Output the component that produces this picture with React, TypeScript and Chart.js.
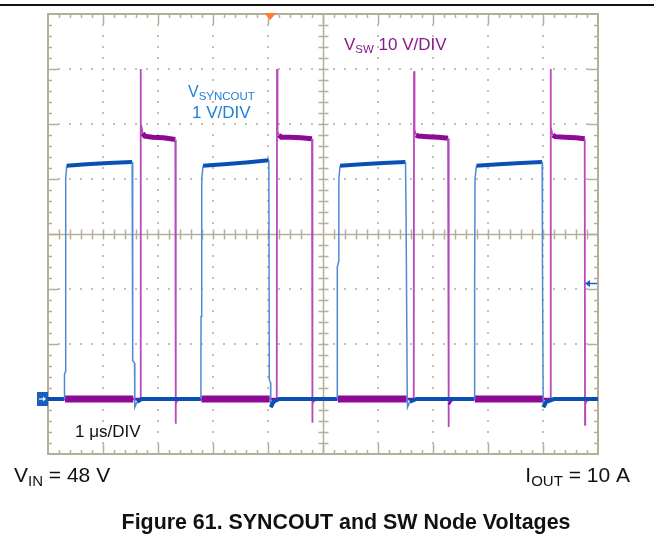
import React, { useEffect, useRef } from "react";
import { Chart, registerables } from "chart.js";

Chart.register(...registerables);

// ---------- data (time in µs, SYNCOUT in V, SW in V) ----------
const syncT = [
  0, 0.295, 0.3, 0.318, 0.322, 0.34, 0.7, 1.1, 1.53, 1.54, 1.574, 1.578, 1.62, 1.7,
  2.78, 2.782, 2.794, 2.796, 2.82, 3.2, 3.6, 4.015, 4.024, 4.046, 4.05, 4.1, 4.2,
  5.258, 5.26, 5.285, 5.288, 5.31, 5.7, 6.1, 6.5, 6.51, 6.532, 6.537, 6.58, 6.7,
  7.75, 7.752, 7.762, 7.764, 7.79, 8.2, 8.6, 8.985, 8.99, 9.003, 9.007, 9.06, 9.2, 10,
];
const syncV = [
  0, 0, 0.45, 0.5, 4.0, 4.24, 4.27, 4.29, 4.31, 0.7, 0.65, -0.15, -0.05, 0,
  0, 1.5, 1.6, 4.0, 4.24, 4.27, 4.3, 4.34, 0.35, 0.3, -0.15, -0.05, 0,
  0, 2.4, 2.5, 4.0, 4.24, 4.27, 4.29, 4.31, 3.4, 0, -0.15, -0.05, 0,
  0, 2.0, 2.1, 4.0, 4.24, 4.27, 4.29, 4.31, 2.5, 0, -0.15, -0.05, 0, 0,
];
const swT = [
  0, 0.31, 1.55, 1.68, 1.685, 1.687, 1.7, 1.72, 1.76, 1.9, 2.1, 2.315, 2.321, 2.325, 2.34, 2.4,
  2.79, 4.03, 4.159, 4.164, 4.166, 4.18, 4.2, 4.24, 4.4, 4.6, 4.8, 4.806, 4.81, 4.83, 4.9,
  5.27, 6.52, 6.65, 6.655, 6.657, 6.67, 6.69, 6.73, 6.9, 7.1, 7.274, 7.281, 7.29, 7.33, 7.4,
  7.76, 9.0, 9.135, 9.14, 9.142, 9.16, 9.18, 9.22, 9.4, 9.6, 9.758, 9.764, 9.768, 9.79, 9.85, 10,
];
const swV = [
  0, 0, 0, 0, 60, 50, 49.5, 48.3, 47.8, 47.6, 47.5, 47.2, -4.5, -1, -0.3, 0,
  0, 0, 0, 60, 49, 48.6, 48.0, 47.6, 47.6, 47.5, 47.3, -4.3, -1, -0.3, 0,
  0, 0, 0, 59.6, 50.7, 49, 48, 47.8, 47.7, 47.6, 47.4, -5.1, -1, -0.3, 0,
  0, 0, 0, 60, 49.5, 48.5, 48, 47.7, 47.6, 47.5, 47.3, -4.7, -1, -0.3, 0, 0,
];

const timeRange = [0, 10];
const syncRange = [-1, 7];
const swRange = [-10, 70];
const syncTrigLevel = 2.1;
const trigTime = 4.04;

// ---------- styles ----------
const FONT = '"Liberation Sans", Arial, Helvetica, sans-serif';
const GRID = "#b6af98";
const DOT = "#c6bfaa";
const BLUE_DARK = "#0b4fb5";
const BLUE_EDGE = "#4f8ad6";
const MAG_DARK = "#8c0a94";
const MAG_EDGE = "#b848bc";
const TXT_BLUE = "#1f7fd4";
const TXT_MAG = "#861a88";
const MARK_BLUE = "#1a5fc0";

function syncAt(t: number): number {
  for (let i = 1; i < syncT.length; i++) {
    if (t <= syncT[i]) {
      const f = (t - syncT[i - 1]) / (syncT[i] - syncT[i - 1] || 1);
      return syncV[i - 1] + f * (syncV[i] - syncV[i - 1]);
    }
  }
  return syncV[syncV.length - 1];
}

function steep(c: any): boolean {
  const dx = Math.abs(c.p1.x - c.p0.x);
  const dy = Math.abs(c.p1.y - c.p0.y);
  return dy > 2 * dx;
}

function blueFlat(c: any): boolean {
  if (steep(c)) return false;
  const a = c.p0.parsed.y, b = c.p1.parsed.y;
  return (a >= 3.9 && b >= 3.9) || (Math.abs(a) <= 0.3 && Math.abs(b) <= 0.3);
}

function swFlat(c: any): boolean {
  if (steep(c)) return false;
  const a = c.p0.parsed.y, b = c.p1.parsed.y;
  return (a >= 45 && b >= 45) || (Math.abs(a) <= 1.5 && Math.abs(b) <= 1.5);
}

type Part = { t: string; size: number; dy?: number; bold?: boolean };

function drawParts(ctx: CanvasRenderingContext2D, parts: Part[], x: number, y: number, color: string, align: "left" | "right" | "center" = "left") {
  let w = 0;
  const widths: number[] = [];
  for (const p of parts) {
    ctx.font = `${p.bold ? "bold " : ""}${p.size}px ${FONT}`;
    const m = ctx.measureText(p.t).width;
    widths.push(m);
    w += m;
  }
  let cx = align === "left" ? x : align === "right" ? x - w : x - w / 2;
  ctx.fillStyle = color;
  ctx.textAlign = "left";
  ctx.textBaseline = "alphabetic";
  parts.forEach((p, i) => {
    ctx.font = `${p.bold ? "bold " : ""}${p.size}px ${FONT}`;
    ctx.fillText(p.t, cx, y + (p.dy || 0));
    cx += widths[i];
  });
}

const graticule = {
  id: "graticule",
  beforeDatasetsDraw(chart: any) {
    const { ctx, chartArea: a, scales } = chart;
    const xs = scales.x;
    const ys = scales.y;
    const x0 = timeRange[0], x1 = timeRange[1];
    const y0 = syncRange[0], y1 = syncRange[1];
    const xc = (x0 + x1) / 2, yc = (y0 + y1) / 2;
    ctx.save();
    // dotted major grid
    ctx.fillStyle = DOT;
    for (let v = x0 + 1; v < x1; v++) {
      if (v === xc) continue;
      const px = Math.round(xs.getPixelForValue(v));
      for (let m = y0 + 0.2; m < y1 - 0.1; m += 0.2) {
        const py = Math.round(ys.getPixelForValue(m));
        ctx.fillRect(px - 1, py - 1, 2, 2);
      }
    }
    for (let v = y0 + 1; v < y1; v++) {
      if (v === yc) continue;
      const py = Math.round(ys.getPixelForValue(v));
      for (let m = x0 + 0.2; m < x1 - 0.1; m += 0.2) {
        const px = Math.round(xs.getPixelForValue(m));
        ctx.fillRect(px - 1, py - 1, 2, 2);
      }
    }
    // center lines
    ctx.strokeStyle = GRID;
    ctx.lineWidth = 1.5;
    const pxc = Math.round(xs.getPixelForValue(xc)) + 0.5;
    const pyc = Math.round(ys.getPixelForValue(yc)) + 0.5;
    ctx.beginPath();
    ctx.moveTo(pxc, a.top);
    ctx.lineTo(pxc, a.bottom);
    ctx.moveTo(a.left, pyc);
    ctx.lineTo(a.right, pyc);
    for (let m = y0 + 0.2; m < y1 - 0.1; m += 0.2) {
      const py = Math.round(ys.getPixelForValue(m)) + 0.5;
      ctx.moveTo(pxc - 5, py);
      ctx.lineTo(pxc + 5, py);
    }
    for (let m = x0 + 0.2; m < x1 - 0.1; m += 0.2) {
      const px = Math.round(xs.getPixelForValue(m)) + 0.5;
      ctx.moveTo(px, pyc - 5);
      ctx.lineTo(px, pyc + 5);
    }
    ctx.stroke();
    // border ticks
    ctx.beginPath();
    for (let m = x0 + 0.2; m < x1 - 0.1; m += 0.2) {
      const major = Math.abs(m - Math.round(m)) < 0.01;
      const len = major ? 10 : 4;
      const px = Math.round(xs.getPixelForValue(m)) + 0.5;
      ctx.moveTo(px, a.top);
      ctx.lineTo(px, a.top + len);
      ctx.moveTo(px, a.bottom);
      ctx.lineTo(px, a.bottom - len);
    }
    for (let m = y0 + 0.2; m < y1 - 0.1; m += 0.2) {
      const major = Math.abs(m - Math.round(m)) < 0.01;
      const len = major ? 10 : 4;
      const py = Math.round(ys.getPixelForValue(m)) + 0.5;
      ctx.moveTo(a.left, py);
      ctx.lineTo(a.left + len, py);
      ctx.moveTo(a.right, py);
      ctx.lineTo(a.right - len, py);
    }
    ctx.stroke();
    // border
    ctx.lineWidth = 2;
    ctx.strokeRect(a.left, a.top, a.right - a.left, a.bottom - a.top);
    ctx.restore();
  },
};

const overlay = {
  id: "overlay",
  afterDatasetsDraw(chart: any) {
    const { ctx, chartArea: a, scales } = chart;
    ctx.save();
    // ground marker (SYNCOUT)
    const g = scales.y.getPixelForValue(0);
    ctx.fillStyle = MARK_BLUE;
    ctx.fillRect(a.left - 11, g - 7, 11, 14);
    ctx.strokeStyle = "#ffffff";
    ctx.fillStyle = "#ffffff";
    ctx.lineWidth = 1.2;
    ctx.beginPath();
    ctx.moveTo(a.left - 9, g);
    ctx.lineTo(a.left - 4, g);
    ctx.stroke();
    ctx.beginPath();
    ctx.moveTo(a.left - 2, g);
    ctx.lineTo(a.left - 5, g - 2.5);
    ctx.lineTo(a.left - 5, g + 2.5);
    ctx.closePath();
    ctx.fill();
    // trigger level arrow
    const tl = scales.y.getPixelForValue(syncTrigLevel);
    ctx.strokeStyle = MARK_BLUE;
    ctx.fillStyle = MARK_BLUE;
    ctx.lineWidth = 1.5;
    ctx.beginPath();
    ctx.moveTo(a.right - 9, tl);
    ctx.lineTo(a.right - 1, tl);
    ctx.stroke();
    ctx.beginPath();
    ctx.moveTo(a.right - 13, tl);
    ctx.lineTo(a.right - 8, tl - 3.5);
    ctx.lineTo(a.right - 8, tl + 3.5);
    ctx.closePath();
    ctx.fill();
    // trigger position marker
    const tp = scales.x.getPixelForValue(trigTime);
    ctx.fillStyle = "#ff7f2a";
    ctx.beginPath();
    ctx.moveTo(tp - 6, a.top - 1);
    ctx.lineTo(tp + 6, a.top - 1);
    ctx.lineTo(tp, a.top + 6);
    ctx.closePath();
    ctx.fill();
    ctx.restore();
  },
  afterDraw(chart: any) {
    const { ctx } = chart;
    ctx.save();
    ctx.fillStyle = "#111111";
    ctx.fillRect(0, 4, 654, 2);
    drawParts(ctx, [{ t: "V", size: 16 }, { t: "SYNCOUT", size: 11.5, dy: 2.5 }], 188, 97, TXT_BLUE);
    drawParts(ctx, [{ t: "1 V/DIV", size: 17 }], 192, 118, TXT_BLUE);
    drawParts(ctx, [{ t: "V", size: 17 }, { t: "SW", size: 11.5, dy: 2.5 }, { t: " 10 V/DIV", size: 17 }], 344, 50, TXT_MAG);
    drawParts(ctx, [{ t: "1 \u03bcs/DIV", size: 17 }], 75, 437, "#111111");
    drawParts(ctx, [{ t: "V", size: 21 }, { t: "IN", size: 15, dy: 4 }, { t: " = 48 V", size: 21 }], 14, 482, "#111111");
    drawParts(ctx, [{ t: "I", size: 21 }, { t: "OUT", size: 15, dy: 4 }, { t: " = 10 A", size: 21 }], 630, 482, "#111111", "right");
    drawParts(ctx, [{ t: "Figure 61. SYNCOUT and SW Node Voltages", size: 21.4, bold: true }], 346, 529, "#111111", "center");
    ctx.restore();
  },
};

export default function App() {
  const ref = useRef<HTMLCanvasElement | null>(null);
  useEffect(() => {
    if (!ref.current) return;
    const syncData = syncT.map((t, i) => ({ x: t, y: syncV[i] }));
    const swData = swT.map((t, i) => ({ x: t, y: swV[i] }));
    const chart = new Chart(ref.current, {
      type: "line",
      data: {
        datasets: [
          {
            label: "SYNCOUT",
            data: syncData,
            yAxisID: "y",
            order: 0,
            borderColor: BLUE_DARK,
            borderWidth: 4,
            pointRadius: 0,
            tension: 0,
            borderCapStyle: "butt",
            segment: {
              borderColor: (c: any) => (blueFlat(c) ? BLUE_DARK : BLUE_EDGE),
              borderWidth: (c: any) => (blueFlat(c) ? 4 : 1.5),
            },
          } as any,
          {
            label: "SW",
            data: swData,
            yAxisID: "ySW",
            order: 1,
            borderColor: MAG_DARK,
            borderWidth: 5,
            pointRadius: 0,
            tension: 0,
            borderCapStyle: "butt",
            segment: {
              borderColor: (c: any) => (swFlat(c) ? MAG_DARK : MAG_EDGE),
              borderWidth: (c: any) => {
                if (!swFlat(c)) return 1.8;
                if (Math.abs(c.p0.parsed.y) > 10) return 5;
                const tm = (c.p0.parsed.x + c.p1.parsed.x) / 2;
                return syncAt(tm) > 2 ? 7 : 2.5;
              },
            },
          } as any,
        ],
      },
      options: {
        responsive: false,
        animation: false,
        devicePixelRatio: 1,
        layout: { padding: { left: 48, right: 56, top: 14, bottom: 83 } },
        scales: {
          x: { type: "linear", min: timeRange[0], max: timeRange[1], display: false },
          y: { type: "linear", min: syncRange[0], max: syncRange[1], display: false },
          ySW: { type: "linear", min: swRange[0], max: swRange[1], display: false },
        },
        plugins: { legend: { display: false }, tooltip: { enabled: false }, title: { display: false } },
        events: [],
      },
      plugins: [graticule, overlay],
    });
    return () => chart.destroy();
  }, []);
  return (
    <div style={{ position: "fixed", left: 0, top: 0, width: 654, height: 537, background: "#ffffff" }}>
      <canvas ref={ref} width={654} height={537} style={{ display: "block" }} />
    </div>
  );
}
